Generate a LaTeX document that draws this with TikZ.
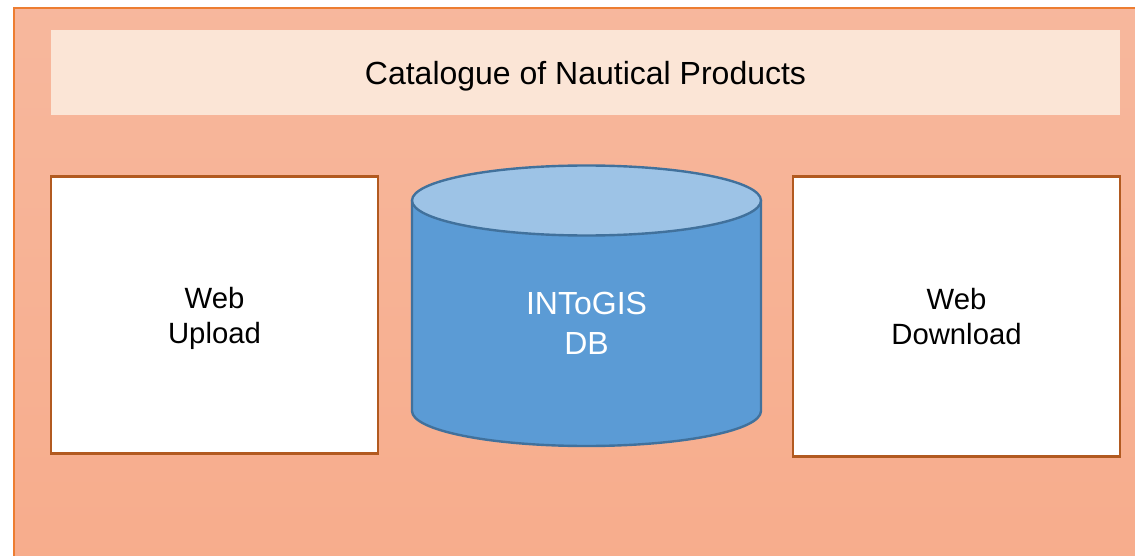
\documentclass[tikz,border=0pt]{standalone}
\usepackage{fontspec}
\setmainfont{Liberation Sans}
\definecolor{panelTop}{RGB}{247,189,165}
\definecolor{panelBot}{RGB}{247,167,132}
\definecolor{panelEdge}{RGB}{237,125,49}
\definecolor{titleFill}{RGB}{251,229,214}
\definecolor{boxEdge}{RGB}{178,90,32}
\definecolor{dbFill}{RGB}{91,155,213}
\definecolor{dbTop}{RGB}{157,195,230}
\definecolor{dbEdge}{RGB}{65,113,156}
\pgfdeclareverticalshading{panelShade}{100bp}{color(0bp)=(panelBot); color(100bp)=(panelTop)}
\tikzset{
  bigtext/.style={font=\fontsize{32}{40}\selectfont, align=center, text depth=0pt},
  webbox/.style={draw=boxEdge, line width=2.6pt, outer sep=0pt, fill=white, minimum width=327pt, anchor=north west, font=\fontsize{29.3}{35}\selectfont, align=center, text depth=0pt},
}
\begin{document}
\begin{tikzpicture}[x=1pt,y=-1pt]
  \useasboundingbox (0,0) rectangle (1135,556);

  % Hintergrund
  \shade[shading=panelShade] (14,8) rectangle (1135,556);
  \draw[panelEdge, line width=1.2pt] (14,556) -- (14,8) -- (1135,8);

  % Titel
  \node[fill=titleFill, outer sep=0pt, minimum width=1069pt, minimum height=85pt, anchor=north west, bigtext] (title) at (51,30) {Catalogue of Nautical Products};

  % Web-Boxen
  \node[webbox, minimum height=277pt] (upload) at (51,176.5) {Web\\Upload};
  \node[webbox, minimum height=280pt] (download) at (793,176.5) {Web\\Download};

  % Datenbank
  \draw[dbEdge, fill=dbFill, line width=2.4pt] (412,201) -- (412,411) arc[start angle=180, end angle=360, x radius=174.5, y radius=-35] -- (761,201) -- cycle;
  \draw[dbEdge, fill=dbTop, line width=2.4pt] (586.5,200.5) ellipse[x radius=174.5, y radius=35];
  \node[bigtext, text=white] (db) at (586.5,323) {INToGIS\\DB};
\end{tikzpicture}
\end{document}
